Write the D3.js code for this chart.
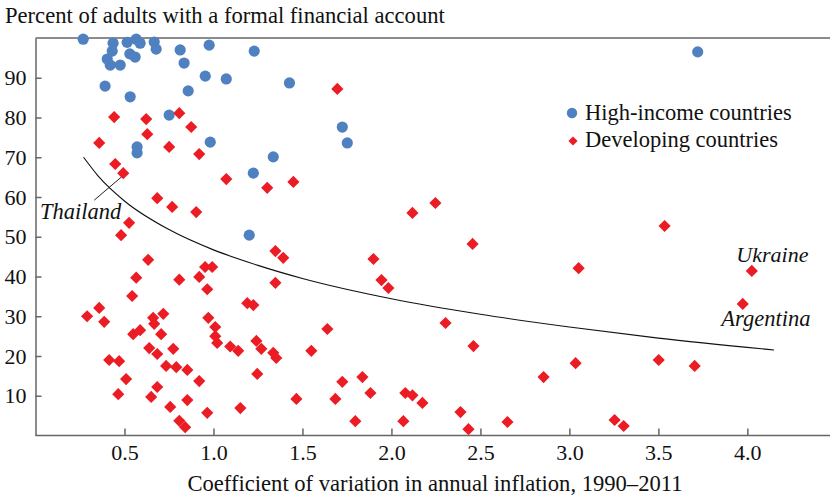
<!DOCTYPE html>
<html>
<head>
<meta charset="utf-8">
<script src="https://cdn.jsdelivr.net/npm/d3@7"></script>
<style>
  body { margin: 0; background: #fff; }
  svg text { font-family: "Liberation Serif", "DejaVu Serif", serif; fill: #111; }
</style>
</head>
<body>
<script>
// High-income countries: [coefficient of variation, percent with account]
const highIncome = [
  [0.268, 99.7], [0.436, 98.7], [0.431, 96.7], [0.403, 94.7], [0.420, 93.2],
  [0.476, 93.2], [0.515, 98.9], [0.566, 99.7], [0.588, 98.7], [0.530, 96.0],
  [0.560, 95.2], [0.667, 99.0], [0.678, 97.2], [0.813, 97.0], [0.976, 98.2],
  [1.229, 96.7], [0.835, 93.7], [0.954, 90.4], [1.072, 89.7], [1.427, 88.7],
  [0.391, 87.9], [0.532, 85.2], [0.858, 86.7], [0.751, 80.6], [0.571, 72.6],
  [0.571, 71.1], [0.982, 73.8], [1.224, 66.0], [1.336, 70.1], [1.201, 50.4],
  [1.724, 77.6], [1.752, 73.6], [3.721, 96.5]
];

// Developing countries
const developing = [
  [1.696, 87.2], [0.442, 80.1], [0.622, 79.6], [0.808, 81.1], [0.875, 77.6],
  [0.358, 73.6], [0.628, 75.8], [0.751, 72.6], [0.920, 70.8], [0.448, 68.3],
  [0.493, 66.0], [1.072, 64.5], [1.302, 62.3], [1.449, 63.8], [0.684, 59.7],
  [0.768, 57.5], [0.903, 56.2], [0.526, 53.5], [0.481, 50.4], [1.348, 46.4],
  [1.392, 44.7], [0.633, 44.2], [0.566, 39.7], [0.808, 39.2], [0.920, 39.9],
  [0.953, 42.4], [0.993, 42.4], [0.965, 36.8], [1.348, 38.4], [0.543, 35.1],
  [1.190, 33.3], [1.224, 32.8], [0.290, 30.0], [0.358, 32.1], [0.386, 28.6],
  [0.661, 29.6], [0.667, 28.1], [0.718, 30.6], [0.549, 25.5], [0.588, 26.5],
  [0.706, 25.5], [0.971, 29.6], [1.010, 27.3], [1.010, 25.0], [1.021, 23.3],
  [1.094, 22.4], [1.139, 21.3], [1.241, 23.8], [1.269, 21.8], [1.336, 20.8],
  [1.353, 19.5], [1.246, 15.5], [0.639, 22.0], [0.684, 20.5], [0.774, 21.8],
  [0.414, 19.0], [0.470, 18.7], [0.734, 17.5], [0.791, 17.2], [0.853, 16.5],
  [0.509, 14.2], [0.920, 13.7], [0.465, 10.4], [0.650, 9.7], [0.684, 12.2],
  [0.757, 7.2], [0.853, 8.9], [0.808, 3.7], [0.841, 2.1], [0.965, 5.7],
  [1.151, 6.9], [1.466, 9.2], [2.118, 56.0], [2.247, 58.5], [2.456, 48.2],
  [1.899, 44.4], [1.944, 39.1], [1.983, 37.1], [2.304, 28.3], [1.640, 26.8],
  [2.461, 22.5], [1.550, 21.3], [3.035, 18.2], [2.855, 14.7], [1.837, 14.7],
  [1.724, 13.5], [1.882, 10.7], [2.078, 10.7], [2.118, 10.1], [2.174, 8.2],
  [1.685, 9.2], [2.388, 5.9], [1.797, 3.6], [2.067, 3.6], [2.652, 3.4],
  [2.433, 1.6], [3.535, 52.7], [3.052, 42.1], [4.025, 41.4], [3.974, 33.1],
  [3.502, 19.0], [3.704, 17.5], [3.254, 3.9], [3.305, 2.4]
];

// Fitted curve
const trendX = [0.27, 0.35, 0.5, 0.75, 1.0, 1.25, 1.5, 2.0, 2.5, 3.0, 3.5, 4.15];
const trendY = [70.0, 65.4, 59.0, 51.8, 46.7, 42.8, 39.5, 34.4, 30.5, 27.3, 24.5, 21.5];

const xTicks = [0.5, 1.0, 1.5, 2.0, 2.5, 3.0, 3.5, 4.0];
const yTicks = [10, 20, 30, 40, 50, 60, 70, 80, 90];

const seriesNames = ["High-income countries", "Developing countries"];
const labelNames = ["Thailand", "Ukraine", "Argentina"];
// points the labels refer to
const labelPoints = [[0.493, 66.0], [4.025, 41.4], [3.974, 33.1]];

const titleY = "Percent of adults with a formal financial account";
const titleX = "Coefficient of variation in annual inflation, 1990\u20132011";

const W = 830, H = 496;
const blue = "#4f81c1", red = "#ec1c24", axisCol = "#666";

const svg = d3.select("body").append("svg")
  .attr("width", W).attr("height", H);

const x = d3.scaleLinear().domain([0, 4.47]).range([35.5, 831]);
const y = d3.scaleLinear().domain([0, 100]).range([435.5, 38]);

// top frame line
svg.append("line")
  .attr("x1", x(0)).attr("x2", W)
  .attr("y1", y(100)).attr("y2", y(100))
  .attr("stroke", axisCol).attr("stroke-width", 1.5);

// axes
const xAxis = d3.axisBottom(x).tickValues(xTicks)
  .tickFormat(d3.format(".1f")).tickSizeInner(-7).tickSizeOuter(0).tickPadding(9);
const yAxis = d3.axisLeft(y).tickValues(yTicks)
  .tickSizeInner(-6).tickSizeOuter(0).tickPadding(9);

const gx = svg.append("g").attr("transform", `translate(0,${y(0)})`).call(xAxis);
const gy = svg.append("g").attr("transform", `translate(${x(0)},0)`).call(yAxis);

[gx, gy].forEach(g => {
  g.select(".domain").attr("stroke", axisCol).attr("stroke-width", 1.5);
  g.selectAll(".tick line").attr("stroke", axisCol).attr("stroke-width", 1.5);
  g.selectAll(".tick text").style("font-size", "22px").attr("fill", "#111")
    .style("font-family", "Liberation Serif");
});
// extend bottom axis to page edge
gx.select(".domain").attr("d", `M${x(0)},0H${W}`);

// titles
svg.append("text").attr("x", 5).attr("y", 23)
  .style("font-size", "22.6px").text(titleY);
svg.append("text").attr("x", 435).attr("y", 491)
  .attr("text-anchor", "middle").style("font-size", "22.6px").text(titleX);

// high-income circles
svg.append("g").selectAll("circle")
  .data(highIncome).enter().append("circle")
  .attr("cx", d => x(d[0])).attr("cy", d => y(d[1]))
  .attr("r", 5.6).attr("fill", blue);

// developing diamonds
const diamond = d3.symbol().type(d3.symbolSquare).size(74);
svg.append("g").selectAll("path")
  .data(developing).enter().append("path")
  .attr("d", diamond)
  .attr("transform", d => `translate(${x(d[0])},${y(d[1])}) rotate(45)`)
  .attr("fill", red);

// trend curve
const trend = trendX.map((v, i) => [v, trendY[i]]);
svg.append("path")
  .datum(trend)
  .attr("d", d3.line().x(d => x(d[0])).y(d => y(d[1])).curve(d3.curveMonotoneX))
  .attr("fill", "none").attr("stroke", "#111").attr("stroke-width", 1.1);

// legend
const legend = svg.append("g").attr("transform", "translate(572,113)");
legend.append("circle").attr("r", 5.2).attr("fill", blue);
legend.append("path").attr("d", d3.symbol().type(d3.symbolSquare).size(42))
  .attr("transform", "translate(1,28) rotate(45)").attr("fill", red);
legend.selectAll("text").data(seriesNames).enter().append("text")
  .attr("x", 13).attr("y", (d, i) => 7 + i * 27)
  .style("font-size", "22.5px").text(d => d);

// annotations
const ann = svg.append("g").style("font-style", "italic");
// Thailand, with leader
const th = labelPoints[0];
ann.append("line")
  .attr("x1", x(th[0]) - 2).attr("y1", y(th[1]) + 4)
  .attr("x2", x(th[0]) - 29).attr("y2", y(th[1]) + 27)
  .attr("stroke", "#222").attr("stroke-width", 1);
ann.append("text").attr("x", x(th[0]) - 42.6).attr("y", y(th[1]) + 46)
  .attr("text-anchor", "middle").style("font-size", "22.5px").attr("fill", "#333")
  .text(labelNames[0]);
// Ukraine above, Argentina below
ann.append("text").attr("x", x(labelPoints[1][0]) + 20.6).attr("y", y(labelPoints[1][1]) - 9)
  .attr("text-anchor", "middle").style("font-size", "22px").attr("fill", "#333")
  .text(labelNames[1]);
ann.append("text").attr("x", x(labelPoints[2][0]) + 23.2).attr("y", y(labelPoints[2][1]) + 22)
  .attr("text-anchor", "middle").style("font-size", "22.5px").attr("fill", "#333")
  .text(labelNames[2]);
</script>
</body>
</html>
